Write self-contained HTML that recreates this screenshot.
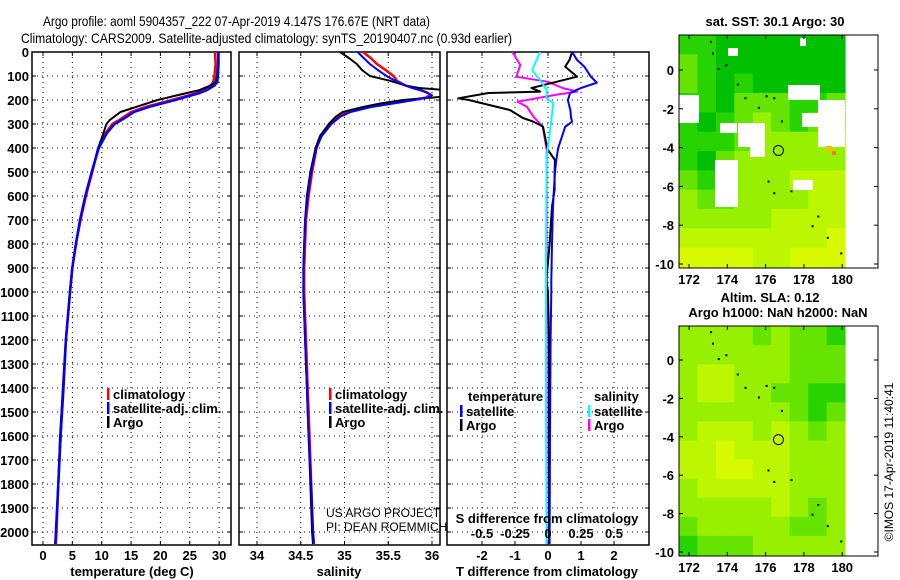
<!DOCTYPE html>
<html><head><meta charset="utf-8"><style>
html,body{margin:0;padding:0;background:#fff;}
svg{display:block;font-family:"Liberation Sans",sans-serif;}
.b{font-weight:bold;font-size:13px;}
</style></head><body>
<svg id="fig" width="900" height="580" viewBox="0 0 900 580"></svg>
<script>
// ---------- data ----------
const depthTicks=[0,100,200,300,400,500,600,700,800,900,1000,1100,1200,1300,1400,1500,1600,1700,1800,1900,2000];
const tempTicks=[0,5,10,15,20,25,30];
const salTicks=[34,34.5,35,35.5,36];
const salTickLabels=["34","34.5","35","35.5","36"];
const tdiffTicks=[-2,-1,0,1,2];
const sdiffTicks=[-0.5,-0.25,0,0.25,0.5];
const sdiffTickLabels=["-0.5","-0.25","0","0.25","0.5"];

const depthT=[0,50,100,125,140,160,171,200,228,250,283,300,337,400,500,600,700,800,900,1000,1200,1400,1600,1800,2000,2050];
const argoT=[29.8,29.8,29.6,29.4,28.5,26.5,24.5,19.5,16,13.2,11.4,10.8,10.3,9.4,8.3,7.2,6.3,5.6,5.0,4.6,3.9,3.4,2.9,2.6,2.2,2.1];
const satT=[29.9,29.9,29.8,29.7,29.2,27.8,26.7,22.5,18.2,15.5,13.4,12.2,10.9,9.5,8.3,7.2,6.3,5.6,5.0,4.6,3.9,3.5,3.0,2.6,2.2,2.1];
const climT=[29.3,29.4,29.2,29.0,28.6,27.3,26.3,22.0,17.6,15,13,11.8,10.7,9.4,8.4,7.3,6.4,5.6,5.0,4.6,3.9,3.4,3.0,2.6,2.3,2.2];

const depthS=[0,25,50,75,100,120,140,150,160,170,180,190,200,215,230,250,270,300,350,400,500,600,700,800,900,1000,1200,1400,1600,1800,2000,2050];
const argoS=[34.95,35.05,35.14,35.2,35.29,35.52,35.7,35.85,36.2,36.3,36.3,36.0,35.67,35.4,35.2,34.98,34.9,34.82,34.72,34.67,34.61,34.57,34.55,34.54,34.53,34.53,34.55,34.57,34.59,34.61,34.63,34.64];
const satS=[35.15,35.22,35.29,35.38,35.48,35.58,35.7,35.78,35.88,35.95,36.0,35.95,35.8,35.55,35.3,35.07,34.95,34.85,34.74,34.68,34.62,34.58,34.55,34.54,34.53,34.53,34.55,34.57,34.59,34.62,34.64,34.65];
const climS=[35.21,35.3,35.37,35.47,35.56,35.6,35.7,35.78,35.88,35.95,35.98,35.93,35.77,35.5,35.27,35.04,34.93,34.84,34.73,34.68,34.63,34.59,34.56,34.55,34.54,34.54,34.56,34.58,34.6,34.62,34.64,34.65];

const depthDT=[0,33,61,103,128,150,165,171,193,200,242,275,290,304,311,395,408,450,505,575,645,800,950,1000,1200,1600,2050];
const satDT=[0.73,0.88,1.1,1.3,1.48,1.0,0.75,0.67,0.62,0.6,0.68,0.7,0.73,0.6,0.52,0.32,0.3,0.25,0.21,0.18,0.15,0.12,0.1,0.1,0.08,0.06,0.05];
const argoDT=[0.73,0.65,0.52,0.88,0.15,-0.5,-0.24,-1.8,-2.72,-2.4,-1.15,-0.76,-0.45,-0.24,-0.15,-0.03,0.0,0.21,0.2,0.2,0.12,0.05,-0.05,0.0,0.03,0.03,0.03];
const depthDS=[0,54,103,124,150,165,179,207,228,270,311,408,600,1000,1500,2050];
const argoDS=[-0.27,-0.21,-0.24,0,0.11,0.22,0.05,-0.23,-0.16,-0.11,-0.04,-0.01,-0.01,-0.01,-0.01,-0.01];
const depthDSs=[0,75,117,158,193,213,311,436,800,1500,2050];
const satDS=[-0.06,-0.12,-0.06,-0.01,-0.01,0.04,0.02,-0.01,-0.015,-0.015,-0.01];

// map grids (rows lat 1.8 -> -10, cols lon 171.5 -> 180)
const sstGrid=[
[1,1,0,0,0,0,0,0,0],[2,1,0,0,0,0,0,0,0],[2,1,0,1,0,0,0,0,0],[1,1,0,2,2,2,1,1,2],
[1,0,1,2,3,2,1,2,2],[1,1,1,2,3,3,3,3,3],[1,0,2,3,3,3,3,3,3],[2,1,2,3,3,3,4,4,4],
[3,2,2,3,3,3,3,4,4],[3,3,3,3,3,4,4,4,4],[4,4,4,4,4,4,4,4,5],[5,5,5,5,4,4,5,5,5]];
const slaGrid=[
[3,3,3,3,2,3,2,2,1],[3,3,3,3,3,3,2,2,2],[3,4,4,3,3,3,2,2,2],[3,4,4,3,3,2,2,1,1],
[3,3,3,3,3,3,2,1,2],[3,4,4,4,3,4,3,2,3],[4,4,5,4,4,4,3,3,3],[4,4,5,5,4,4,3,3,3],
[3,4,4,4,4,4,3,3,3],[3,3,3,3,3,4,3,2,3],[2,3,3,3,3,3,2,2,3],[1,2,2,2,3,3,3,3,3]];
const lonTicks=[172,174,176,178,180];
const latTicks=[0,-2,-4,-6,-8,-10];
const islandLon=[173.1,173.2,173.5,173.9,174.5,174.9,175.6,176.0,176.4,176.8,176.1,176.4,177.3,178.4,178.7,179.2,179.9];
const islandLat=[1.5,0.9,0.1,0.3,-0.7,-1.4,-1.9,-1.3,-1.4,-2.6,-5.7,-6.3,-6.2,-8.0,-7.5,-8.6,-9.4];
const floatLon=176.67, floatLat=-4.147;

// ---------- helpers ----------
const NS="http://www.w3.org/2000/svg";
const svg=document.getElementById('fig');
function mk(tag,attrs,parent){const e=document.createElementNS(NS,tag);for(const k in attrs)e.setAttribute(k,attrs[k]);(parent||svg).appendChild(e);return e;}
function txt(s,x,y,attrs,parent){const e=mk('text',Object.assign({x:x,y:y},attrs||{}),parent);e.textContent=s;return e;}
const yD=d=>52+d*0.24;
const PT=0,PB=545;
const xT=t=>43+5.87*t;
const xS=s=>257+87.5*(s-34);
const xDT=t=>548+33*t;
const xDS=s=>548+132*s;

// clip paths
const defs=mk('defs',{});
function clip(id,x1,x2,y1,y2){const c=mk('clipPath',{id:id},defs);mk('rect',{x:x1,y:y1,width:x2-x1,height:y2-y1},c);}
clip('c1',32,231,52,545);clip('c2',239,440,52,545);clip('c3',447,649,52,545);

function panel(name,x1,x2,xs,xf,ylabels){
  const g=mk('g',{});
  
  
  depthTicks.forEach(d=>{
    const y=yD(d);
    mk('line',{x1:x1,x2:x2,y1:y,y2:y,stroke:'#000','stroke-width':1,'stroke-dasharray':'1,4'},g);
    mk('line',{x1:x1,x2:x1+4,y1:y,y2:y,stroke:'#000'},g);
    mk('line',{x1:x2-4,x2:x2,y1:y,y2:y,stroke:'#000'},g);
    if(ylabels){const t=txt(String(d),29,y+5,{'text-anchor':'end',class:'b'},g);
      }
  });
  xs.forEach(v=>{const x=xf(v);
    mk('line',{x1:x,x2:x,y1:52,y2:545,stroke:'#000','stroke-width':1,'stroke-dasharray':'1,4'},g);
    mk('line',{x1:x,x2:x,y1:52,y2:56,stroke:'#000'},g);
    mk('line',{x1:x,x2:x,y1:541,y2:545,stroke:'#000'},g);
  });
  mk('rect',{x:x1,y:52,width:x2-x1,height:493,fill:'none',stroke:'#000','stroke-width':1.5},g);
  return g;
}
function line(name,ds,vs,xf,color,w,cl){
  const p=ds.map((d,i)=>(i?'L':'M')+xf(vs[i]).toFixed(1)+','+yD(d).toFixed(1)).join(' ');
  const e=mk('path',{d:p,fill:'none',stroke:color,'stroke-width':w,'clip-path':'url(#'+cl+')','stroke-linejoin':'round'});
  
  
}
function legend(items,x,y0,dy){
  items.forEach((it,i)=>{const y=y0+i*dy;
    mk('rect',{x:x,y:y-10,width:2.5,height:12,fill:it[1]});
    const t=txt(it[0],x+6,y+1,{class:'b'});
    
  });
}

// titles
let t=txt('Argo profile: aoml 5904357_222 07-Apr-2019 4.147S 176.67E (NRT data)',43,26,{'font-size':'14px',textLength:387,lengthAdjust:'spacingAndGlyphs'});

t=txt('Climatology: CARS2009. Satellite-adjusted climatology: synTS_20190407.nc (0.93d earlier)',21,43,{'font-size':'14px',textLength:491,lengthAdjust:'spacingAndGlyphs'});


// panel 1: temperature
panel('temperature-panel',32,231,tempTicks,xT,true);
line('climatology-temperature-line',depthT,climT,xT,'#f00',2.5,'c1');
line('argo-temperature-line',depthT,argoT,xT,'#000',2,'c1');
line('satellite-temperature-line',depthT,satT,xT,'#00f',2.5,'c1');
tempTicks.forEach(v=>{const e=txt(String(v),xT(v),560,{'text-anchor':'middle',class:'b'});});
t=txt('temperature (deg C)',132,576,{'text-anchor':'middle',class:'b'});
legend([['climatology','#f00'],['satellite-adj. clim.','#00f'],['Argo','#000']],107,398,14);

// panel 2: salinity
panel('salinity-panel',239,440,salTicks,xS,false);
line('climatology-salinity-line',depthS,climS,xS,'#f00',2.5,'c2');
line('argo-salinity-line',depthS,argoS,xS,'#000',2,'c2');
line('satellite-salinity-line',depthS,satS,xS,'#00f',2,'c2');
salTicks.forEach((v,i)=>{const e=txt(salTickLabels[i],xS(v),560,{'text-anchor':'middle',class:'b'});});
t=txt('salinity',339,576,{'text-anchor':'middle',class:'b'});
legend([['climatology','#f00'],['satellite-adj. clim.','#00f'],['Argo','#000']],329,398,14);
t=txt('US ARGO PROJECT',326,517,{'font-size':'12px'});
t=txt('PI: DEAN ROEMMICH',326,531,{'font-size':'12px'});

// panel 3: differences
panel('difference-panel',447,649,tdiffTicks,xDT,false);
line('argo-salinity-diff-line',depthDS,argoDS,xDS,'#f0f',2,'c3');
line('argo-temperature-diff-line',depthDT,argoDT,xDT,'#000',2,'c3');
line('satellite-temperature-diff-line',depthDT,satDT,xDT,'#00f',2,'c3');
line('satellite-salinity-diff-line',depthDSs,satDS,xDS,'#0ff',2,'c3');
tdiffTicks.forEach(v=>{const e=txt(String(v),xDT(v),560,{'text-anchor':'middle',class:'b'});});
sdiffTicks.forEach((v,i)=>{const e=txt(sdiffTickLabels[i],xDS(v),538,{'text-anchor':'middle',class:'b'});});
t=txt('S difference from climatology',547,523,{'text-anchor':'middle',class:'b'});
t=txt('T difference from climatology',547,576,{'text-anchor':'middle',class:'b'});
t=txt('temperature',468,401,{class:'b'});
t=txt('salinity',594,401,{class:'b'});
legend([['satellite','#00f'],['Argo','#000']],460,415,14);
legend([['satellite','#0ff'],['Argo','#f0f']],588,415,14);

// ---------- maps ----------
const pal=['#00c000','#28d400','#64e400','#96f000','#bcf600','#d8fa00'];
function map(name,grid,top,lat0y,lat10y,titleLines,whites){
  const g=mk('g',{});
  
  
  const lx=l=>689+(l-172)*19.15;
  const ly=l=>lat0y+(-l)*(lat10y-lat0y)/10;
  const x0=679,x1=845,y0=top,y1=lat10y+3;
  const cw=(x1-x0)/9,ch=(y1-y0)/12;
  grid.forEach((row,r)=>row.forEach((v,c)=>{
    mk('rect',{x:(x0+c*cw).toFixed(1),y:(y0+r*ch).toFixed(1),width:(cw+0.6).toFixed(1),height:(ch+0.6).toFixed(1),fill:pal[v]},g);
  }));
  (whites||[]).forEach(w=>mk('rect',{x:w[0],y:w[1],width:w[2],height:w[3],fill:w[4]||'#fff'},g));
  islandLon.forEach((lo,i)=>mk('rect',{x:lx(lo),y:ly(islandLat[i]),width:2,height:2,fill:'#000'},g));
  const c=mk('circle',{cx:lx(floatLon),cy:ly(floatLat),r:5,fill:'none',stroke:'#000','stroke-width':1},g);
  
  mk('rect',{x:679,y:top,width:199,height:y1-top+1,fill:'none',stroke:'#000','stroke-width':1},g);
  lonTicks.forEach(l=>{const x=lx(l);
    mk('line',{x1:x,x2:x,y1:top,y2:top+4,stroke:'#000'},g);
    mk('line',{x1:x,x2:x,y1:y1+1-4,y2:y1+1,stroke:'#000'},g);
    const e=txt(String(l),x,y1+17,{'text-anchor':'middle',class:'b'},g);
    
  });
  latTicks.forEach(l=>{const y=ly(l);
    mk('line',{x1:679,x2:683,y1:y,y2:y,stroke:'#000'},g);
    mk('line',{x1:874,x2:878,y1:y,y2:y,stroke:'#000'},g);
    const e=txt(String(l),674,y+5,{'text-anchor':'end',class:'b'},g);
    
  });
  titleLines.forEach(tl=>{const e=txt(tl[0],tl[1],tl[2],{'text-anchor':'middle',class:'b'},g);
    });
}
map('sst-map',sstGrid,35,70,264,[['sat. SST: 30.1 Argo: 30',775,26]],[
 [679,95,20,28],[788,85,32,15],[818,100,27,47],[802,113,16,14],[738,123,27,24],[715,160,23,47],
 [793,180,20,10],[720,123,17,10],[750,147,15,10],[728,48,10,8],[800,38,6,8],[845,110,1,1],
 [826,146,6,6,'#f0c000'],[832,151,4,4,'#f08000']]);
map('sla-map',slaGrid,326,360,552,[['Altim. SLA: 0.12',770,302],['Argo h1000: NaN h2000: NaN',778,317]],[]);

t=txt('©IMOS 17-Apr-2019 11:40:41',0,0,{'font-size':'12px',transform:'translate(893,462) rotate(-90)','text-anchor':'middle'});

</script>
</body></html>
